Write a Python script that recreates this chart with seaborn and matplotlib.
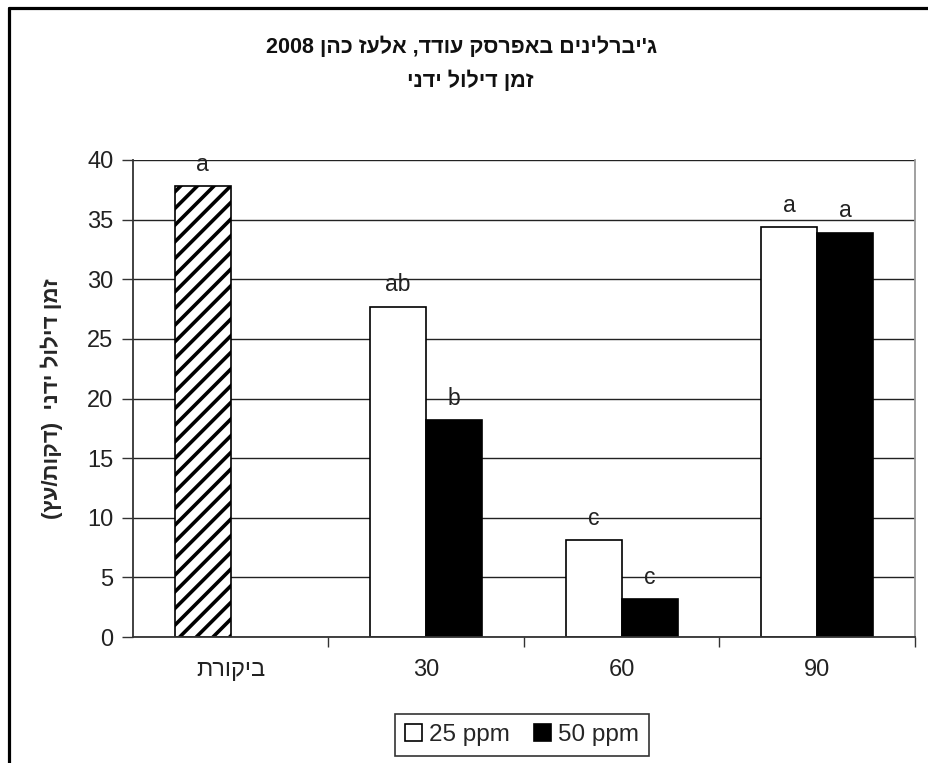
import numpy as np
import pandas as pd
import seaborn as sns
import matplotlib
matplotlib.use('Agg')
from matplotlib import pyplot as plt
from matplotlib.lines import Line2D

# data
categories = ['ביקורת', '30', '60', '90']
series = ['25 ppm', '50 ppm']
vals_25 = [37.8, 27.7, 8.1, 34.4]
vals_50 = [np.nan, 18.2, 3.2, 33.9]
letters_25 = ['a', 'ab', 'c', 'a']
letters_50 = ['', 'b', 'c', 'a']

title_1 = "ג'יברלינים באפרסק עודד, אלעז כהן 2008"
title_2 = 'זמן דילול ידני'
y_label = 'זמן דילול ידני  (דקות/עץ)'


def visual(s):
    # matplotlib has no bidi: put the hebrew in visual order by hand
    out = s[::-1]
    out = out.translate(str.maketrans('()', ')('))
    parts, buf = [], ''
    for ch in out:
        if ch.isdigit() or ('a' <= ch.lower() <= 'z'):
            buf += ch
        else:
            if buf:
                parts.append(buf[::-1])
                buf = ''
            parts.append(ch)
    if buf:
        parts.append(buf[::-1])
    return ''.join(parts)


sns.set_theme(style='white')
plt.rcParams['font.family'] = ['Liberation Sans', 'DejaVu Sans']
plt.rcParams['hatch.linewidth'] = 2.6
plt.rcParams['hatch.color'] = 'black'

df = pd.DataFrame({
    'category': [visual(c) for c in categories] * 2,
    'series': [series[0]] * 4 + [series[1]] * 4,
    'value': vals_25 + vals_50,
})
cat_labels = [visual(c) for c in categories]

fig = plt.figure(figsize=(9.29, 7.63), dpi=100)
ax = fig.add_axes([133 / 929, 1 - 637 / 763, (915 - 133) / 929, (637 - 160) / 763])

sns.barplot(data=df, x='category', y='value', hue='series', order=cat_labels,
            hue_order=series, palette={'25 ppm': 'white', '50 ppm': 'black'},
            width=0.573, edgecolor='black', linewidth=1.2, errorbar=None,
            gap=0, ax=ax)

# control bar is hatched
for p in ax.patches:
    h = p.get_height()
    if np.isfinite(h) and h > 0 and p.get_x() + p.get_width() / 2 < 0.5:
        p.set_hatch('//')
        p.set_facecolor('white')

# significance letters
bar_w = 0.573 / 2
for i in range(len(categories)):
    for j, (v, l) in enumerate([(vals_25[i], letters_25[i]), (vals_50[i], letters_50[i])]):
        if l and np.isfinite(v):
            xc = i - bar_w / 2 + j * bar_w
            ax.annotate(l, (xc, v), xytext=(0, 11), textcoords='offset points',
                        ha='center', va='baseline', fontsize=16.5, color='#222222')

ax.set_ylim(0, 40)
ax.set_xlim(-0.5, 3.5)
ax.set_yticks(np.arange(0, 41, 5))
ax.yaxis.grid(True, color='#222222', linewidth=1.0)
ax.set_axisbelow(True)
ax.set_xlabel('')
ax.set_ylabel(visual(y_label), fontsize=16, fontweight='bold')
ax.yaxis.set_label_coords(-(133 - 63) / 782, 0.5)

ax.tick_params(axis='y', which='major', length=8, width=1, color='#333333',
               left=True, labelsize=17, labelcolor='#222222', pad=6)
ax.tick_params(axis='x', which='major', length=0, labelsize=17,
               labelcolor='#222222', pad=16)
ax.set_xticks(np.arange(0.5, 3.6, 1.0), minor=True)
ax.tick_params(axis='x', which='minor', length=7, width=1, color='#333333',
               bottom=True)

for side in ['left', 'bottom']:
    ax.spines[side].set_color('#333333')
    ax.spines[side].set_linewidth(1.3)
ax.spines['right'].set_color('#999999')
ax.spines['right'].set_linewidth(1.3)
ax.spines['top'].set_visible(False)

handles, labels = ax.get_legend_handles_labels()
ax.get_legend().remove()
leg = fig.legend(handles, labels, loc='center', ncol=2,
                 bbox_to_anchor=(522 / 929, 1 - 735 / 763),
                 fontsize=17.5, frameon=True, fancybox=False, edgecolor='black',
                 handlelength=0.7, handleheight=0.7, handletextpad=0.3,
                 columnspacing=1.0, borderpad=0.4, borderaxespad=0)
leg.get_frame().set_linewidth(1.2)

fig.text(462 / 929, 1 - 47 / 763, visual(title_1), ha='center', va='center',
         fontsize=15.5, fontweight='bold', color='#111111')
fig.text(470 / 929, 1 - 81 / 763, visual(title_2), ha='center', va='center',
         fontsize=15.5, fontweight='bold', color='#111111')

# outer frame (top and left edges only show)
fig.add_artist(Line2D([9.5 / 929, 1.0], [1 - 7.5 / 763, 1 - 7.5 / 763],
                      transform=fig.transFigure, color='black', linewidth=2.3))
fig.add_artist(Line2D([9.5 / 929, 9.5 / 929], [0.0, 1 - 7.5 / 763],
                      transform=fig.transFigure, color='black', linewidth=2.3))

fig.savefig('out.png', dpi=100)
plt.close('all')
